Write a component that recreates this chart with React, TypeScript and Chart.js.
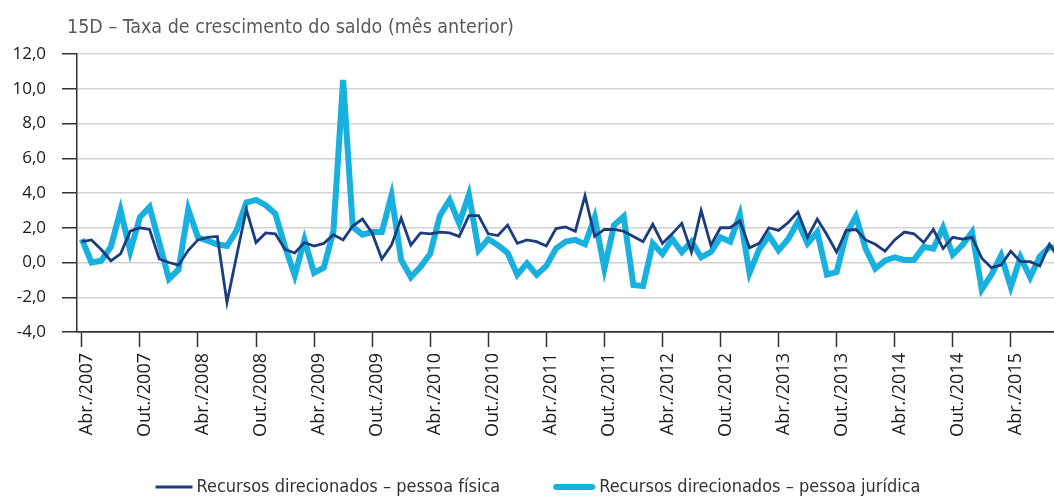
import React, { useEffect, useRef } from "react";
import { Chart, registerables } from "chart.js";

Chart.register(...registerables);

const TITLE = "15D – Taxa de crescimento do saldo (mês anterior)";
const MONTHS = ["Jan.", "Fev.", "Mar.", "Abr.", "Mai.", "Jun.", "Jul.", "Ago.", "Set.", "Out.", "Nov.", "Dez."];
const START_YEAR = 2007;
const START_MONTH = 3; // Abr.

const pessoaFisica = [
  1.2, 1.3, 0.75, 0.1, 0.5, 1.8, 2.0, 1.9, 0.2, 0.0,
  -0.15, 0.7, 1.3, 1.45, 1.5, -2.3, 0.4, 3.05, 1.15, 1.7,
  1.65, 0.75, 0.55, 1.15, 0.95, 1.1, 1.6, 1.3, 2.1, 2.5,
  1.7, 0.2, 1.0, 2.55, 1.0, 1.7, 1.65, 1.75, 1.7, 1.5,
  2.7, 2.7, 1.65, 1.55, 2.15, 1.1, 1.3, 1.2, 0.95, 1.95,
  2.05, 1.8, 3.85, 1.5, 1.9, 1.9, 1.8, 1.5, 1.2, 2.2,
  1.1, 1.65, 2.25, 0.6, 3.0, 1.0, 2.0, 2.0, 2.4, 0.85,
  1.1, 2.0, 1.85, 2.3, 2.9, 1.45, 2.5, 1.6, 0.6, 1.85,
  1.9, 1.3, 1.05, 0.65, 1.3, 1.75, 1.65, 1.15, 1.9, 0.8,
  1.45, 1.35, 1.45, 0.25, -0.3, -0.15, 0.65, 0.05, 0.05, -0.2,
  1.05, 0.2,
];

const pessoaJuridica = [
  1.35, 0.0, 0.1, 0.9, 3.0, 0.65, 2.6, 3.2, 1.15, -0.95,
  -0.4, 3.05, 1.45, 1.25, 1.05, 0.95, 1.85, 3.45, 3.6, 3.3,
  2.8, 0.9, -0.75, 1.3, -0.6, -0.3, 1.8, 10.5, 2.05, 1.6,
  1.75, 1.75, 3.85, 0.15, -0.85, -0.25, 0.5, 2.7, 3.6, 2.25,
  3.9, 0.7, 1.35, 1.0, 0.55, -0.7, -0.05, -0.7, -0.2, 0.8,
  1.2, 1.3, 1.05, 2.6, -0.35, 2.15, 2.65, -1.3, -1.35, 1.1,
  0.5, 1.35, 0.6, 1.2, 0.3, 0.6, 1.45, 1.2, 2.75, -0.6,
  0.75, 1.55, 0.7, 1.35, 2.35, 1.1, 1.75, -0.7, -0.55, 1.65,
  2.65, 0.8, -0.35, 0.1, 0.3, 0.15, 0.15, 0.9, 0.8, 2.0,
  0.45, 1.0, 1.75, -1.55, -0.7, 0.4, -1.4, 0.3, -0.85, 0.35,
  0.9, 0.75,
];

const categories = pessoaFisica.map((_, i) => {
  const m = (START_MONTH + i) % 12;
  const y = START_YEAR + Math.floor((START_MONTH + i) / 12);
  return `${MONTHS[m]}/${y}`;
});

const SERIES_LABELS = [
  "Recursos direcionados – pessoa física",
  "Recursos direcionados – pessoa jurídica",
];

const DARK = "#1b3c7d";
const LIGHT = "#18b0df";
const NARROW = '"Liberation Sans Narrow", "DejaVu Sans Condensed", "Roboto Condensed", sans-serif';
const TICK_FONT = '"Open Sans", "Noto Sans", sans-serif';

const textPlugin = {
  id: "textPlugin",
  afterDraw(chart: any) {
    const ctx = chart.ctx as CanvasRenderingContext2D;
    ctx.save();
    // title
    ctx.fillStyle = "#595959";
    ctx.font = `19.5px ${NARROW}`;
    ctx.textAlign = "left";
    ctx.textBaseline = "alphabetic";
    ctx.fillText(TITLE, 67, 33);

    // legend
    ctx.font = `18px ${NARROW}`;
    ctx.fillStyle = "#333333";
    ctx.textBaseline = "middle";
    const items = chart.data.datasets.map((ds: any) => ({
      text: ds.label as string,
      color: ds.borderColor as string,
      lw: ds.borderWidth as number,
      len: ds.borderWidth > 4 ? 42 : 37,
      w: ctx.measureText(ds.label).width,
    }));
    const swGap = 4;
    const itemGap = 53;
    let total = 0;
    items.forEach((it: any, i: number) => {
      total += it.len + swGap + it.w + (i > 0 ? itemGap : 0);
    });
    let x = 538 - total / 2;
    const y = 487;
    items.forEach((it: any, i: number) => {
      if (i > 0) x += itemGap;
      ctx.beginPath();
      ctx.strokeStyle = it.color;
      ctx.lineWidth = it.lw;
      ctx.lineCap = it.lw > 4 ? "round" : "butt";
      const inset = it.lw > 4 ? it.lw / 2 : 0;
      ctx.moveTo(x + inset, y);
      ctx.lineTo(x + it.len - inset, y);
      ctx.stroke();
      x += it.len + swGap;
      ctx.fillText(it.text, x, y);
      x += it.w;
    });
    ctx.restore();
  },
};

export default function App() {
  const ref = useRef<HTMLCanvasElement | null>(null);

  useEffect(() => {
    if (!ref.current) return;
    const chart = new Chart(ref.current, {
      type: "line",
      data: {
        labels: categories,
        datasets: [
          {
            label: SERIES_LABELS[0],
            data: pessoaFisica,
            borderColor: DARK,
            backgroundColor: DARK,
            borderWidth: 2.8,
            pointRadius: 0,
            tension: 0,
            fill: false,
          },
          {
            label: SERIES_LABELS[1],
            data: pessoaJuridica,
            borderColor: LIGHT,
            backgroundColor: LIGHT,
            borderWidth: 6,
            pointRadius: 0,
            tension: 0,
            fill: false,
          },
        ],
      },
      options: {
        responsive: false,
        animation: false,
        events: [],
        layout: { padding: { left: 0, top: 54, right: 16, bottom: 0 } },
        plugins: {
          legend: { display: false },
          title: { display: false },
          tooltip: { enabled: false },
        },
        scales: {
          x: {
            type: "category",
            offset: true,
            grid: {
              display: true,
              drawOnChartArea: false,
              drawTicks: true,
              tickLength: 15,
              tickWidth: 1.5,
              tickColor: "#333333",
              offset: false,
            },
            border: { display: true, color: "#333333", width: 1.5 },
            ticks: {
              autoSkip: false,
              minRotation: 90,
              maxRotation: 90,
              padding: 6,
              labelOffset: 5,
              color: "#1a1a1a",
              font: { family: TICK_FONT, size: 18 },
            },
            afterBuildTicks: (scale: any) => {
              scale.ticks = scale.ticks.filter((t: any) => t.value % 6 === 0);
            },
            afterFit: (scale: any) => {
              scale.height = 164;
            },
          },
          y: {
            min: -4,
            max: 12,
            ticks: {
              stepSize: 2,
              padding: 16,
              color: "#1a1a1a",
              font: { family: TICK_FONT, size: 17 },
              callback: (v: any) => Number(v).toFixed(1).replace(".", ","),
            },
            grid: {
              color: (c: any) => (c.tick && c.tick.value === -4 ? "#333333" : "#d3d3d3"),
              lineWidth: 1.5,
              drawTicks: true,
              tickLength: 15,
              tickWidth: 1.5,
              tickColor: "#333333",
            },
            border: { display: true, color: "#333333", width: 1.5 },
            afterFit: (scale: any) => {
              scale.width = 77;
            },
          },
        },
      },
      plugins: [textPlugin],
    });
    return () => chart.destroy();
  }, []);

  return (
    <div
      style={{
        position: "absolute",
        left: 0,
        top: 0,
        width: 1054,
        height: 496,
        overflow: "hidden",
        background: "#ffffff",
      }}
    >
      <canvas ref={ref} width={1080} height={496} style={{ display: "block", width: 1080, height: 496 }} />
    </div>
  );
}
